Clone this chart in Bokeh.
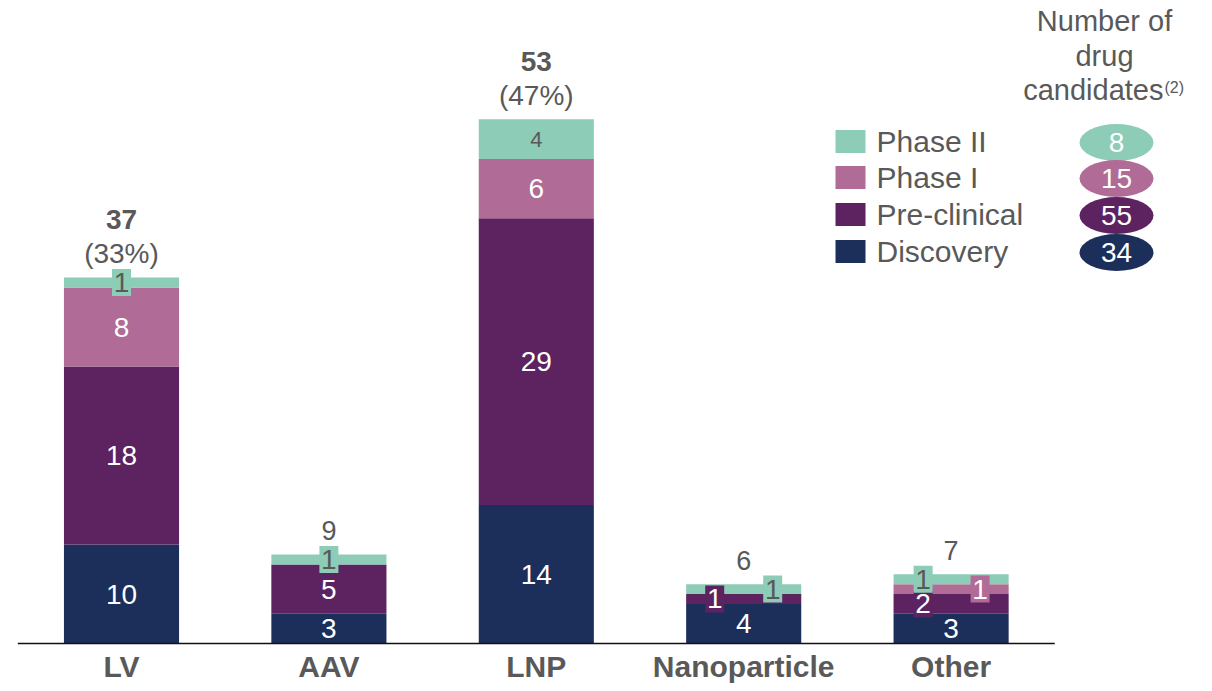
from bokeh.plotting import figure
from bokeh.models import Range1d, FixedTicker, ColumnDataSource
from bokeh.embed import file_html
from bokeh.resources import INLINE
from bokeh.core.properties import value

# ---------------- data ----------------
categories = ["LV", "AAV", "LNP", "Nanoparticle", "Other"]
stages = ["Discovery", "Pre-clinical", "Phase I", "Phase II"]
discovery = [10, 3, 14, 4, 3]
preclinical = [18, 5, 29, 1, 2]
phase1 = [8, 0, 6, 0, 1]
phase2 = [1, 1, 4, 1, 1]
highlight = [True, False, True, False, False]   # totals shown bold with share
header_lines = ["Number of", "drug", "candidates"]
header_note = "(2)"

# ---------------- style ----------------
colors = {"Discovery": "#1c2f5b", "Pre-clinical": "#5c2360",
          "Phase I": "#b06b96", "Phase II": "#8dcdb7"}
GREY = "#595959"
FONT = value("Liberation Sans")

PX_PER_X = 207.4
X0_PX = 17.3          # px of x = 0
PX_PER_Y = 9.89
FRAME_W = 1204
FRAME_H = 645
Y0_PX = 643           # px (from top) of y = 0

def px2x(px):
    return (px - X0_PX) / PX_PER_X

def py2y(py):
    return (Y0_PX - py) / PX_PER_Y

p = figure(frame_width=FRAME_W, frame_height=FRAME_H,
           x_range=Range1d(-X0_PX / PX_PER_X, (FRAME_W - X0_PX) / PX_PER_X),
           y_range=Range1d(-(FRAME_H - Y0_PX) / PX_PER_Y, Y0_PX / PX_PER_Y),
           output_backend="svg", toolbar_location=None,
           y_axis_location=None, min_border_left=0, min_border_right=0,
           min_border_top=0, min_border_bottom=0)
p.outline_line_color = None
p.xgrid.visible = False
p.ygrid.visible = False
p.background_fill_color = "white"

xs = [i + 0.5 for i in range(len(categories))]
series = {"Discovery": discovery, "Pre-clinical": preclinical,
          "Phase I": phase1, "Phase II": phase2}

# stacked bars
bottom = [0] * len(categories)
seg_centers = {}
for st in stages:
    vals = series[st]
    top = [b + v for b, v in zip(bottom, vals)]
    src = ColumnDataSource(dict(x=xs, bottom=bottom, top=top))
    p.vbar(x="x", bottom="bottom", top="top", width=0.555, source=src,
           fill_color=colors[st], line_color=None)
    seg_centers[st] = [(b + t) / 2 for b, t in zip(bottom, top)]
    bottom = top
totals = bottom
grand_total = sum(totals)

# baseline
p.segment(x0=[0], y0=[0], x1=[len(categories)], y1=[0], line_color="#111111", line_width=1.6)

# segment labels
label_shift = {("Nanoparticle", "Pre-clinical"): -29, ("Nanoparticle", "Phase II"): 29,
               ("Other", "Phase II"): -28, ("Other", "Pre-clinical"): -28,
               ("Other", "Phase I"): 29}
lx, ly, lt, lc, lxo, lfs = [], [], [], [], [], []
bx, by, bc = [], [], []
for st in stages:
    for i, c in enumerate(categories):
        v = series[st][i]
        if v == 0:
            continue
        off = label_shift.get((c, st), 0)
        lx.append(xs[i]); ly.append(seg_centers[st][i]); lt.append(str(v))
        lc.append(GREY if st == "Phase II" else "white")
        lxo.append(off)
        lfs.append("22px" if (st == "Phase II" and v > 2) else "28px")
        if v <= 2:
            bx.append(xs[i] + off / PX_PER_X); by.append(seg_centers[st][i]); bc.append(colors[st])

p.rect(x=bx, y=by, width=19, height=27, width_units="screen", height_units="screen",
       fill_color=bc, line_color=None)
p.text(x="x", y="y", text="t", text_color="c", x_offset="xo", text_font_size="fs",
       source=ColumnDataSource(dict(x=lx, y=ly, t=lt, c=lc, xo=lxo, fs=lfs)),
       text_align="center", text_baseline="middle", text_font=FONT)

# totals above bars
for i, c in enumerate(categories):
    if highlight[i]:
        p.text(x=[xs[i]], y=[totals[i]], text=[f"({round(100 * totals[i] / grand_total)}%)"],
               y_offset=-24, text_align="center", text_baseline="middle",
               text_font=FONT, text_font_size="28px", text_color=GREY)
        p.text(x=[xs[i]], y=[totals[i]], text=[str(totals[i])], y_offset=-58,
               text_align="center", text_baseline="middle", text_font=FONT,
               text_font_size="28px", text_font_style="bold", text_color=GREY)
    else:
        p.text(x=[xs[i]], y=[totals[i]], text=[str(totals[i])], y_offset=-24,
               text_align="center", text_baseline="middle", text_font=FONT,
               text_font_size="27px", text_color=GREY)

# legend + stage totals
legend_order = ["Phase II", "Phase I", "Pre-clinical", "Discovery"]
row_y = [141, 177, 214, 251]
for st, yy in zip(legend_order, row_y):
    p.rect(x=[px2x(850)], y=[py2y(yy)], width=30, height=23, width_units="screen",
           height_units="screen", fill_color=colors[st], line_color=None)
    p.text(x=[px2x(876)], y=[py2y(yy)], text=[st], text_align="left", text_baseline="middle",
           text_font=FONT, text_font_size="30px", text_color=GREY)
    p.ellipse(x=[px2x(1116)], y=[py2y(yy + 1)], width=74, height=37, width_units="screen",
              height_units="screen", fill_color=colors[st], line_color=None)
    p.text(x=[px2x(1116)], y=[py2y(yy + 1)], text=[str(sum(series[st]))], text_align="center",
           text_baseline="middle", text_font=FONT, text_font_size="28px", text_color="white")

# header
p.text(x=[px2x(1104)], y=[py2y(20)], text=[header_lines[0]], text_align="center",
       text_baseline="middle", text_font=FONT, text_font_size="29px", text_color=GREY)
p.text(x=[px2x(1104)], y=[py2y(55)], text=[header_lines[1]], text_align="center",
       text_baseline="middle", text_font=FONT, text_font_size="29px", text_color=GREY)
p.text(x=[px2x(1163)], y=[py2y(89)], text=[header_lines[2]], text_align="right",
       text_baseline="middle", text_font=FONT, text_font_size="29px", text_color=GREY)
p.text(x=[px2x(1164)], y=[py2y(87)], text=[header_note], text_align="left",
       text_baseline="middle", text_font=FONT, text_font_size="16px", text_color=GREY)

# x axis
p.xaxis.ticker = FixedTicker(ticks=xs)
p.xaxis.major_label_overrides = {x: c for x, c in zip(xs, categories)}
p.xaxis.axis_line_color = None
p.xaxis.major_tick_line_color = None
p.xaxis.minor_tick_line_color = None
p.xaxis.major_tick_out = 0
p.xaxis.major_tick_in = 0
p.xaxis.major_label_standoff = 4
p.xaxis.major_label_text_font = "Liberation Sans"
p.xaxis.major_label_text_font_size = "30px"
p.xaxis.major_label_text_font_style = "bold"
p.xaxis.major_label_text_color = GREY

open("out.html", "w").write(file_html(p, INLINE))
